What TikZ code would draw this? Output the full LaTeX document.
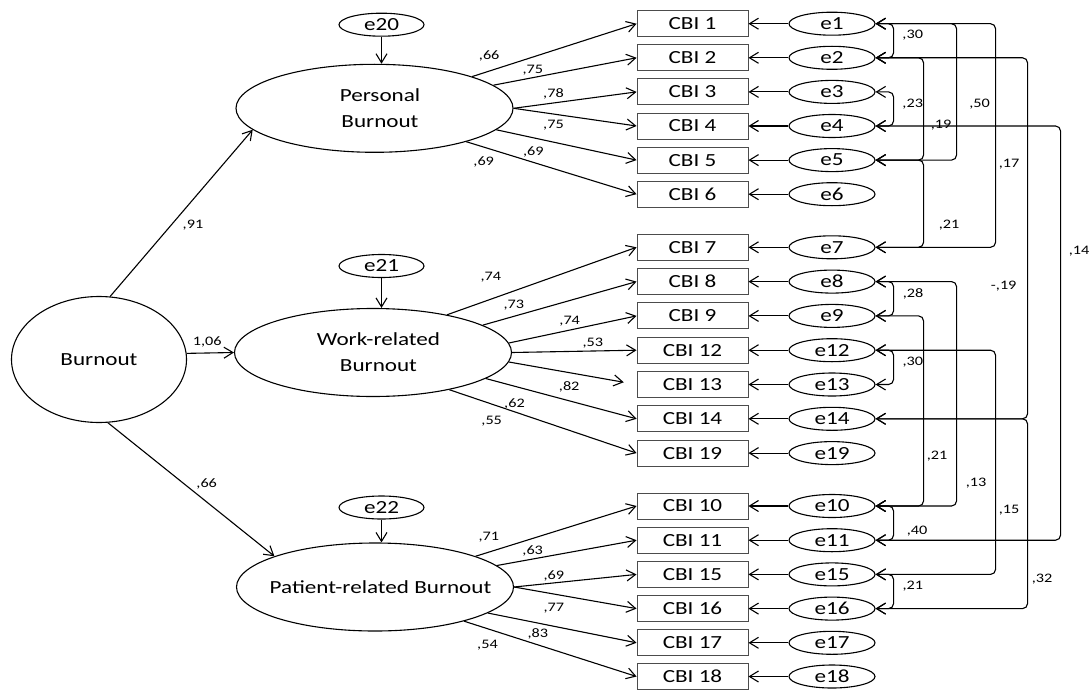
\documentclass[tikz,border=0pt]{standalone}
\usepackage{fontspec}
\setmainfont{Carlito}[FakeStretch=1.25]
\usetikzlibrary{arrows.meta,shapes.geometric,calc}
\begin{document}
\begin{tikzpicture}[x=1pt,y=-1pt,
  every node/.style={font=\fontsize{18.5}{26}\selectfont},
  line width=1.1pt,
  >={Straight Barb[length=9pt,width=11pt]},
  obs/.style={draw=black!70, line width=0.9pt, rectangle, minimum width=111pt, minimum height=26pt, inner sep=0pt},
  err/.style={draw, ellipse, minimum width=86pt, minimum height=23pt, inner sep=0pt},
  lat/.style={draw, ellipse, minimum width=277pt, minimum height=88pt, inner sep=0pt, align=center},
  lab/.style={font=\fontsize{13}{15}\selectfont, inner sep=0pt, text height=8.5pt, text depth=0pt},
  load/.style={->},
  cov/.style={<->, rounded corners=5pt}
]
\useasboundingbox (0,0) rectangle (1091,690);

% observed indicators and their errors
\foreach \n/\y in {1/23.7, 2/57.8, 3/91.9, 4/126.0, 5/160.1, 6/194.2,
                   7/247.3, 8/281.6, 9/315.9, 12/350.2, 13/384.5, 14/418.8, 19/453.1,
                   10/506.0, 11/540.2, 15/574.4, 16/608.6, 17/642.8, 18/676.5} {
  \node[obs] (c\n) at (692.5,\y) {CBI \n};
  \node[err] (e\n) at (832,\y) {e\n};
  \draw[->] (e\n) -- (c\n);
}

% latent variables
\node[draw, ellipse, minimum width=175pt, minimum height=126pt, inner sep=0pt] (burn) at (99,359.5) {Burnout};
\node[lat] (pers) at (374.5,108.3) {\hspace*{11pt}Personal\\\hspace*{11pt}Burnout};
\node[lat] (work) at (373,352.5) {\hspace*{11pt}Work-related\\\hspace*{11pt}Burnout};
\node[lat, inner xsep=-21pt] (pat) at (375,587) {\hspace*{11pt}Patient-related Burnout};

\node[err, minimum width=85pt] (e20) at (381.5,24.7) {e20};
\node[err, minimum width=85pt] (e21) at (381.5,266) {e21};
\node[err, minimum width=85pt] (e22) at (381.5,507.5) {e22};
\draw[->] (e20) -- (e20 |- pers.north);
\draw[->] (e21) -- (e21 |- work.north);
\draw[->] (e22) -- (e22 |- pat.north);

% structural paths
\draw[->] (burn.80) -- (pers.190);
\draw[->] (burn.4) -- (work.west);
\draw[->] (burn.-82) -- (pat.163);
\node[lab] at (193,223.8) {,91};
\node[lab] at (207.2,341.7) {1,06};
\node[lab] at (206.7,482.8) {,66};

% loadings: personal
\draw[load] (pers.18) -- (c1.west);
\draw[load] (pers.11) -- (c2.west);
\draw[load] (pers.0) -- (c3.west);
\draw[load] (pers.0) -- (c4.west);
\draw[load] (pers.-10) -- (c5.west);
\draw[load] (pers.-20) -- (c6.west);
\node[lab] at (489.2,55) {,66};
\node[lab] at (532.8,69) {,75};
\node[lab] at (553.5,93.3) {,78};
\node[lab] at (553.5,124.3) {,75};
\node[lab] at (533.3,151) {,69};
\node[lab] at (483.7,161.7) {,69};

% loadings: work-related
\draw[load] (work.27) -- (c7.west);
\draw[load] (work.14) -- (c8.west);
\draw[load] (work.4) -- (c9.west);
\draw[load] (work.0) -- (c12.west);
\draw[load, shorten >=13pt] (work.-4) -- (c13.west);
\draw[load] (work.-13) -- (c14.west);
\draw[load] (work.-26) -- (c19.west);
\node[lab] at (490.8,276.3) {,74};
\node[lab] at (513.8,304.3) {,73};
\node[lab] at (569.7,320.7) {,74};
\node[lab] at (592.8,342.3) {,53};
\node[lab] at (569.2,386.3) {,82};
\node[lab] at (514.5,403.7) {,62};
\node[lab] at (491.7,420.3) {,55};

% loadings: patient-related
\draw[load] (pat.17) -- (c10.west);
\draw[load] (pat.10) -- (c11.west);
\draw[load] (pat.0) -- (c15.west);
\draw[load] (pat.0) -- (c16.west);
\draw[load] (pat.-13) -- (c17.west);
\draw[load] (pat.-21) -- (c18.west);
\node[lab] at (488.8,536.7) {,71};
\node[lab] at (532.7,550.5) {,63};
\node[lab] at (553.8,575.3) {,69};
\node[lab] at (553.8,607) {,77};
\node[lab] at (537.8,633.7) {,83};
\node[lab] at (487.5,644) {,54};

% error covariances
\draw[cov] (e1.east) -- ++(18,0) |- (e2.east);
\draw[cov] (e3.east) -- ++(18,0) |- (e4.east);
\draw[cov] (e2.east) -- ++(48,0) |- (e5.east);
\draw[cov] (e1.east) -- ++(81,0) |- (e5.east);
\draw[cov] (e1.east) -- ++(120,0) |- (e7.east);
\draw[cov] (e5.east) -- ++(48,0) |- (e7.east);
\draw[cov] (e2.east) -- ++(152,0) |- (e14.east);
\draw[cov] (e4.east) -- ++(185,0) |- (e11.east);
\draw[cov] (e8.east) -- ++(18,0) |- (e9.east);
\draw[cov] (e12.east) -- ++(18,0) |- (e13.east);
\draw[cov] (e9.east) -- ++(48,0) |- (e10.east);
\draw[cov] (e8.east) -- ++(81,0) |- (e10.east);
\draw[cov] (e12.east) -- ++(120,0) |- (e15.east);
\draw[cov] (e10.east) -- ++(18,0) |- (e11.east);
\draw[cov] (e15.east) -- ++(18,0) |- (e16.east);
\draw[cov] (e14.east) -- ++(152,0) |- (e16.east);

\node[lab] at (912.7,34) {,30};
\node[lab] at (912.7,103.3) {,23};
\node[lab] at (941,124) {,19};
\node[lab] at (979.5,102.8) {,50};
\node[lab] at (1009,163.3) {,17};
\node[lab] at (949,224) {,21};
\node[lab] at (1003.7,285.5) {-,19};
\node[lab] at (1079,250.5) {,14};
\node[lab] at (913,293) {,28};
\node[lab] at (912.8,361.7) {,30};
\node[lab] at (937,455.7) {,21};
\node[lab] at (976,482.7) {,13};
\node[lab] at (1009,509.3) {,15};
\node[lab] at (917,530) {,40};
\node[lab] at (912.8,585) {,21};
\node[lab] at (1042,578.3) {,32};
\end{tikzpicture}
\end{document}
